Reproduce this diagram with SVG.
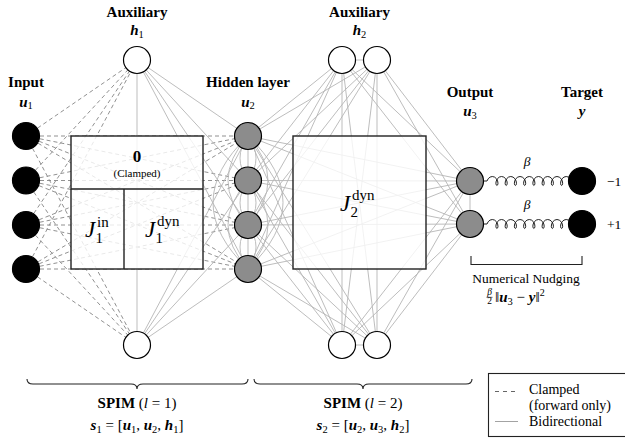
<svg xmlns="http://www.w3.org/2000/svg" width="625" height="438" viewBox="0 0 625 438">
<style>
text{font-family:"Liberation Serif","Times New Roman",serif;fill:#000}
.lbl{font-size:15px;font-weight:bold;text-anchor:middle}
.m{font-size:15px;text-anchor:middle}
.v{font-weight:bold;font-style:italic}
.sub{font-size:10.5px;font-weight:normal;font-style:normal}
.d{fill:none;stroke:#858585;stroke-width:0.9;stroke-dasharray:4 3}
.s{fill:none;stroke:#b5b5b5;stroke-width:0.9}
.box{fill:#fff;fill-opacity:0.8;stroke:#222;stroke-width:1.4}
.div{stroke:#222;stroke-width:1.4}
.in{fill:#000;stroke:#000;stroke-width:1.2}
.hid{fill:#8c8c8c;stroke:#000;stroke-width:1.2}
.aux{fill:#fff;stroke:#000;stroke-width:1.2}
.spr{fill:none;stroke:#222;stroke-width:1;stroke-linejoin:round}
.br{fill:none;stroke:#222;stroke-width:1.1}
</style>
<defs>
<path id="spring" d="M0,0h3.5l1.17,-2.25 1.87,-1.65 2.27,-.6 2.27,.6 1.87,1.65 1.17,2.25 .37,2.25 -.33,1.65 -.73,.6 -.73,-.6 -.33,-1.65 .37,-2.25 1.17,-2.25 1.87,-1.65 2.27,-.6 2.27,.6 1.87,1.65 1.17,2.25 .37,2.25 -.33,1.65 -.73,.6 -.73,-.6 -.33,-1.65 .37,-2.25 1.17,-2.25 1.87,-1.65 2.27,-.6 2.27,.6 1.87,1.65 1.17,2.25 .37,2.25 -.33,1.65 -.73,.6 -.73,-.6 -.33,-1.65 .37,-2.25 1.17,-2.25 1.87,-1.65 2.27,-.6 2.27,.6 1.87,1.65 1.17,2.25 .37,2.25 -.33,1.65 -.73,.6 -.73,-.6 -.33,-1.65 .37,-2.25 1.17,-2.25 1.87,-1.65 2.27,-.6 2.27,.6 1.87,1.65 1.17,2.25 .37,2.25 -.33,1.65 -.73,.6 -.73,-.6 -.33,-1.65 .37,-2.25 1.17,-2.25 1.87,-1.65 2.27,-.6 2.27,.6 1.87,1.65 1.17,2.25 .37,2.25 -.33,1.65 -.73,.6 -.73,-.6 -.33,-1.65 .37,-2.25 1.17,-2.25 1.87,-1.65 2.27,-.6 2.27,.6 1.87,1.65 1.17,2.25 .37,2.25 -.33,1.65 -.73,.6 -.73,-.6 -.33,-1.65 .37,-2.25 1.17,-2.25 1.87,-1.65 2.27,-.6 2.27,.6 1.87,1.65 1.17,2.25 .37,2.25 -.33,1.65 -.73,.6 -.73,-.6 -.33,-1.65 .37,-2.25 1.17,-2.25 1.87,-1.65 2.27,-.6 2.27,.6 1.87,1.65 1.17,2.25h5.5"/>
</defs>
<rect width="625" height="438" fill="#fff"/>

<g id="connectors">
 <g class="d">
  <path d="M26,136L137,60M26,180.5L137,60M26,225L137,60M26,269L137,60"/>
  <path d="M26,136L137,345M26,180.5L137,345M26,225L137,345M26,269L137,345"/>
  <path d="M26,136L248,136M26,136L248,180.5M26,136L248,225M26,136L248,269"/>
  <path d="M26,180.5L248,136M26,180.5L248,180.5M26,180.5L248,225M26,180.5L248,269"/>
  <path d="M26,225L248,136M26,225L248,180.5M26,225L248,225M26,225L248,269"/>
  <path d="M26,269L248,136M26,269L248,180.5M26,269L248,225M26,269L248,269"/>
 </g>
 <g class="s">
  <path d="M137,60V345"/>
  <path d="M137,60L248,136M137,60L248,180.5M137,60L248,225M137,60L248,269"/>
  <path d="M137,345L248,136M137,345L248,180.5M137,345L248,225M137,345L248,269"/>
  <path d="M248,136V269"/>
  <path d="M248,136Q232,158 248,180.5M248,180.5Q232,203 248,225M248,225Q232,247 248,269"/>
  <path d="M248,136Q264,158 248,180.5M248,180.5Q264,203 248,225M248,225Q264,247 248,269"/>
  <path d="M248,136Q208,180.5 248,225M248,180.5Q208,225 248,269M248,136Q178,202.5 248,269"/>
  <path d="M248,136Q288,180.5 248,225M248,180.5Q288,225 248,269M248,136Q318,202.5 248,269"/>
  <path d="M248,136L342,60M248,180.5L342,60M248,225L342,60M248,269L342,60"/>
  <path d="M248,136L377,60M248,180.5L377,60M248,225L377,60M248,269L377,60"/>
  <path d="M248,136L342,345M248,180.5L342,345M248,225L342,345M248,269L342,345"/>
  <path d="M248,136L377,345M248,180.5L377,345M248,225L377,345M248,269L377,345"/>
  <path d="M248,136L470,181M248,180.5L470,181M248,225L470,181M248,269L470,181"/>
  <path d="M248,136L470,224M248,180.5L470,224M248,225L470,224M248,269L470,224"/>
  <path d="M342,60L470,181M377,60L470,181M342,60L470,224M377,60L470,224"/>
  <path d="M342,345L470,181M377,345L470,181M342,345L470,224M377,345L470,224"/>
  <path d="M342,60H377M342,345H377"/>
  <path d="M342,60L342,345M342,60L377,345M377,60L342,345M377,60L377,345"/>
  <path d="M470,181V224"/>
 </g>
 <use href="#spring" class="spr" transform="translate(483.5,181)"/>
 <use href="#spring" class="spr" transform="translate(483.5,224)"/>
</g>

<g id="block1">
 <rect class="box" x="71" y="136" width="132" height="133"/>
 <path class="div" d="M71,189H203M124,189V269"/>
 <text x="137" y="162" font-size="17" font-weight="bold" text-anchor="middle">0</text>
 <text x="137" y="177" font-size="11" text-anchor="middle">(Clamped)</text>
 <text x="85" y="237" font-size="23" font-style="italic">J</text>
 <text x="97" y="227" font-size="15">in</text>
 <text x="95.5" y="243" font-size="15">1</text>
 <text x="145" y="237" font-size="23" font-style="italic">J</text>
 <text x="157" y="226" font-size="15">dyn</text>
 <text x="155.5" y="243" font-size="15">1</text>
</g>

<g id="block2">
 <rect class="box" x="293" y="136" width="133" height="133"/>
 <text x="340" y="210.5" font-size="23" font-style="italic">J</text>
 <text x="352" y="199.5" font-size="15">dyn</text>
 <text x="350.5" y="216.5" font-size="15">2</text>
</g>

<g id="input">
 <circle class="in" cx="26" cy="136" r="13.5"/>
 <circle class="in" cx="26" cy="180.5" r="13.5"/>
 <circle class="in" cx="26" cy="225" r="13.5"/>
 <circle class="in" cx="26" cy="269" r="13.5"/>
 <text class="lbl" x="26" y="87">Input</text>
 <text class="m" x="26" y="106.5"><tspan class="v">u</tspan><tspan class="sub" dy="2.5">1</tspan></text>
</g>

<g id="aux1">
 <circle class="aux" cx="137" cy="60" r="13.5"/>
 <circle class="aux" cx="137" cy="345" r="13.5"/>
 <text class="lbl" x="137" y="16.5">Auxiliary</text>
 <text class="m" x="137" y="35"><tspan class="v">h</tspan><tspan class="sub" dy="2.5">1</tspan></text>
</g>

<g id="hidden">
 <circle class="hid" cx="248" cy="136" r="13.5"/>
 <circle class="hid" cx="248" cy="180.5" r="13.5"/>
 <circle class="hid" cx="248" cy="225" r="13.5"/>
 <circle class="hid" cx="248" cy="269" r="13.5"/>
 <text class="lbl" x="248" y="87">Hidden layer</text>
 <text class="m" x="248" y="106.5"><tspan class="v">u</tspan><tspan class="sub" dy="2.5">2</tspan></text>
</g>

<g id="aux2">
 <circle class="aux" cx="342" cy="60" r="13.5"/>
 <circle class="aux" cx="377" cy="60" r="13.5"/>
 <circle class="aux" cx="342" cy="345" r="13.5"/>
 <circle class="aux" cx="377" cy="345" r="13.5"/>
 <text class="lbl" x="359.5" y="16.5">Auxiliary</text>
 <text class="m" x="359.5" y="35"><tspan class="v">h</tspan><tspan class="sub" dy="2.5">2</tspan></text>
</g>

<g id="output">
 <circle class="hid" cx="470" cy="181" r="13.5"/>
 <circle class="hid" cx="470" cy="224" r="13.5"/>
 <text class="lbl" x="470" y="97">Output</text>
 <text class="m" x="470" y="116"><tspan class="v">u</tspan><tspan class="sub" dy="2.5">3</tspan></text>
</g>

<g id="target">
 <circle class="in" cx="582" cy="181" r="13.5"/>
 <circle class="in" cx="582" cy="224" r="13.5"/>
 <text class="lbl" x="582" y="97">Target</text>
 <text class="m" x="582" y="116"><tspan class="v">y</tspan></text>
 <text x="607" y="185.5" font-size="13.5">−1</text>
 <text x="607" y="228.5" font-size="13.5">+1</text>
</g>

<g id="nudging">
 <text x="527" y="166" font-size="13.5" font-style="italic" text-anchor="middle">β</text>
 <text x="527" y="209" font-size="13.5" font-style="italic" text-anchor="middle">β</text>
 <path class="br" d="M471,256V264.5H582V256"/>
 <text x="526" y="283" font-size="13.5" text-anchor="middle">Numerical Nudging</text>
 <text x="489.5" y="295" font-size="9.5" font-style="italic" text-anchor="middle">β</text>
 <path d="M486.5,297.3H492.5" stroke="#000" stroke-width="0.6"/>
 <text x="489.5" y="304" font-size="9.5" text-anchor="middle">2</text>
 <text x="495" y="302" font-size="15">‖<tspan class="v">u</tspan><tspan class="sub" dy="2.5">3</tspan><tspan dy="-2.5"> − </tspan><tspan class="v">y</tspan>‖<tspan font-size="10" dy="-6">2</tspan></text>
</g>

<g id="spim1">
 <path class="br" d="M27,379C27,383 29,384 33,384L131,384C135,384 137,386 137,389C137,386 139,384 143,384L242,384C246,384 248,383 248,379"/>
 <text class="m" x="137" y="408"><tspan font-weight="bold">SPIM</tspan> (<tspan font-style="italic">l</tspan> = 1)</text>
 <text class="m" x="137" y="430"><tspan class="v">s</tspan><tspan class="sub" dy="2.5">1</tspan><tspan dy="-2.5"> = [</tspan><tspan class="v">u</tspan><tspan class="sub" dy="2.5">1</tspan><tspan dy="-2.5">, </tspan><tspan class="v">u</tspan><tspan class="sub" dy="2.5">2</tspan><tspan dy="-2.5">, </tspan><tspan class="v">h</tspan><tspan class="sub" dy="2.5">1</tspan><tspan dy="-2.5">]</tspan></text>
</g>

<g id="spim2">
 <path class="br" d="M254,379C254,383 256,384 260,384L357,384C361,384 363,386 363,389C363,386 365,384 369,384L466,384C470,384 472,383 472,379"/>
 <text class="m" x="363" y="408"><tspan font-weight="bold">SPIM</tspan> (<tspan font-style="italic">l</tspan> = 2)</text>
 <text class="m" x="363" y="430"><tspan class="v">s</tspan><tspan class="sub" dy="2.5">2</tspan><tspan dy="-2.5"> = [</tspan><tspan class="v">u</tspan><tspan class="sub" dy="2.5">2</tspan><tspan dy="-2.5">, </tspan><tspan class="v">u</tspan><tspan class="sub" dy="2.5">3</tspan><tspan dy="-2.5">, </tspan><tspan class="v">h</tspan><tspan class="sub" dy="2.5">2</tspan><tspan dy="-2.5">]</tspan></text>
</g>

<g id="legend">
 <rect x="488.5" y="373.5" width="140" height="63" fill="#fff" stroke="#222" stroke-width="1.1"/>
 <path d="M495,391.5H518" fill="none" stroke="#555" stroke-width="0.9" stroke-dasharray="4 4"/>
 <path d="M495,421.5H518" fill="none" stroke="#999" stroke-width="0.9"/>
 <text x="529" y="394" font-size="14">Clamped</text>
 <text x="529" y="410" font-size="14">(forward only)</text>
 <text x="529" y="426" font-size="14">Bidirectional</text>
</g>
</svg>
